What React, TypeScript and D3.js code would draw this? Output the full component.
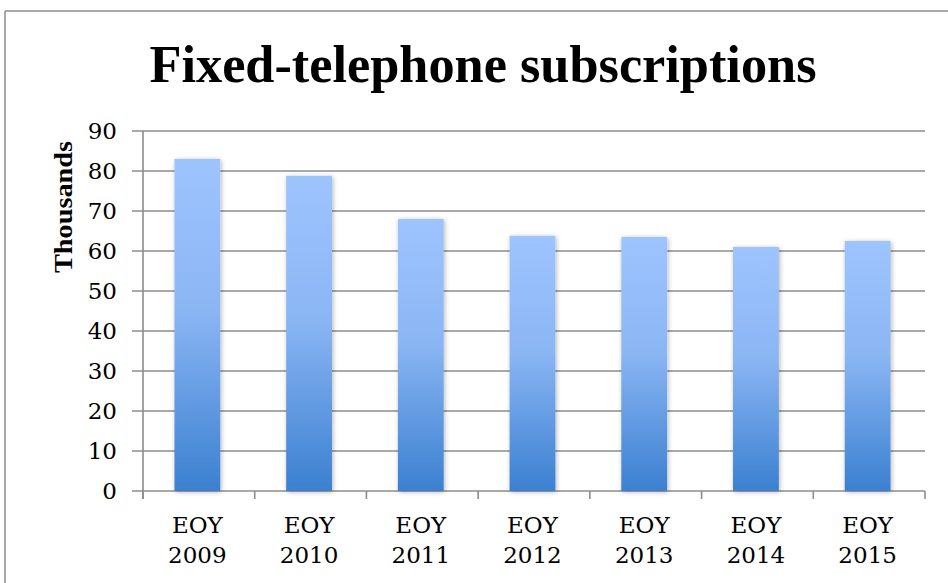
import React from "react";
import * as d3 from "d3";

const categories = ["EOY 2009", "EOY 2010", "EOY 2011", "EOY 2012", "EOY 2013", "EOY 2014", "EOY 2015"];
const values = [83, 78.8, 68, 63.8, 63.5, 61, 62.5];
const yTicks = [0, 10, 20, 30, 40, 50, 60, 70, 80, 90];
const title = "Fixed-telephone subscriptions";
const yTitle = "Thousands";

const W = 948;
const H = 583;
const left = 143;
const right = 925;
const top = 131;
const bottom = 491;

export default function App() {
  const x = d3.scaleBand<string>().domain(categories).range([left, right]).padding(0);
  const y = d3.scaleLinear().domain([0, 90]).range([bottom, top]);
  const bw = x.bandwidth() * 0.41;
  const serif = "'DejaVu Serif', serif";
  const grid = "#8c8c8c";

  return (
    <svg width={W} height={H} style={{ position: "absolute", left: 0, top: 0, background: "#fff" }}>
      <defs>
        <linearGradient id="barGrad" x1="0" y1="0" x2="0" y2="1">
          <stop offset="0%" stopColor="#9ec4fe" />
          <stop offset="45%" stopColor="#8bb6f4" />
          <stop offset="100%" stopColor="#3b80d0" />
        </linearGradient>
        <filter id="shadow" x="-30%" y="-10%" width="160%" height="120%">
          <feGaussianBlur in="SourceAlpha" stdDeviation="2.5" />
          <feOffset dx="1" dy="1" result="b" />
          <feComponentTransfer>
            <feFuncA type="linear" slope="0.3" />
          </feComponentTransfer>
          <feMerge>
            <feMergeNode />
            <feMergeNode in="SourceGraphic" />
          </feMerge>
        </filter>
      </defs>

      {/* frame */}
      <line x1={5} y1={11} x2={W} y2={11} stroke={grid} strokeWidth={1.5} />
      <line x1={5} y1={11} x2={5} y2={H} stroke={grid} strokeWidth={1.5} />

      {/* title */}
      <text
        x={483}
        y={82}
        textAnchor="middle"
        fontFamily="'Liberation Serif', serif"
        fontWeight="bold"
        fontSize={53}
        textLength={667}
        lengthAdjust="spacingAndGlyphs"
        fill="#000"
      >
        {title}
      </text>

      {/* gridlines and y ticks */}
      {yTicks.map((t) => (
        <g key={t}>
          <line x1={left - 11} x2={right} y1={y(t)} y2={y(t)} stroke={grid} strokeWidth={1.6} />
          <text x={117} y={y(t)} dy="0.36em" textAnchor="end" fontFamily={serif} fontSize={23} fill="#000">
            {t}
          </text>
        </g>
      ))}

      {/* y axis */}
      <line x1={left} x2={left} y1={top} y2={bottom + 8} stroke={grid} strokeWidth={1.6} />

      {/* x ticks */}
      {categories.map((c) => (
        <line key={c} x1={x(c)!} x2={x(c)!} y1={bottom} y2={bottom + 8} stroke={grid} strokeWidth={1.6} />
      ))}
      <line x1={right} x2={right} y1={bottom} y2={bottom + 8} stroke={grid} strokeWidth={1.6} />

      {/* bars */}
      {categories.map((c, i) => (
        <rect
          key={c}
          x={x(c)! + x.bandwidth() / 2 - bw / 2 - 1.5}
          y={y(values[i])}
          width={bw}
          height={bottom - y(values[i])}
          fill="url(#barGrad)"
          filter="url(#shadow)"
        />
      ))}

      {/* x labels */}
      {categories.map((c) => {
        const [a, b] = c.split(" ");
        const cx = x(c)! + x.bandwidth() / 2 - 1.5;
        return (
          <text key={c} x={cx} textAnchor="middle" fontFamily={serif} fontSize={23} fill="#000">
            <tspan x={cx} y={533}>{a}</tspan>
            <tspan x={cx} y={563}>{b}</tspan>
          </text>
        );
      })}

      {/* y title */}
      <text
        transform={`translate(72, 207) rotate(-90)`}
        textAnchor="middle"
        fontFamily="'Liberation Serif', serif"
        fontWeight="bold"
        fontSize={25}
        textLength={132}
        lengthAdjust="spacingAndGlyphs"
        fill="#000"
      >
        {yTitle}
      </text>
    </svg>
  );
}
